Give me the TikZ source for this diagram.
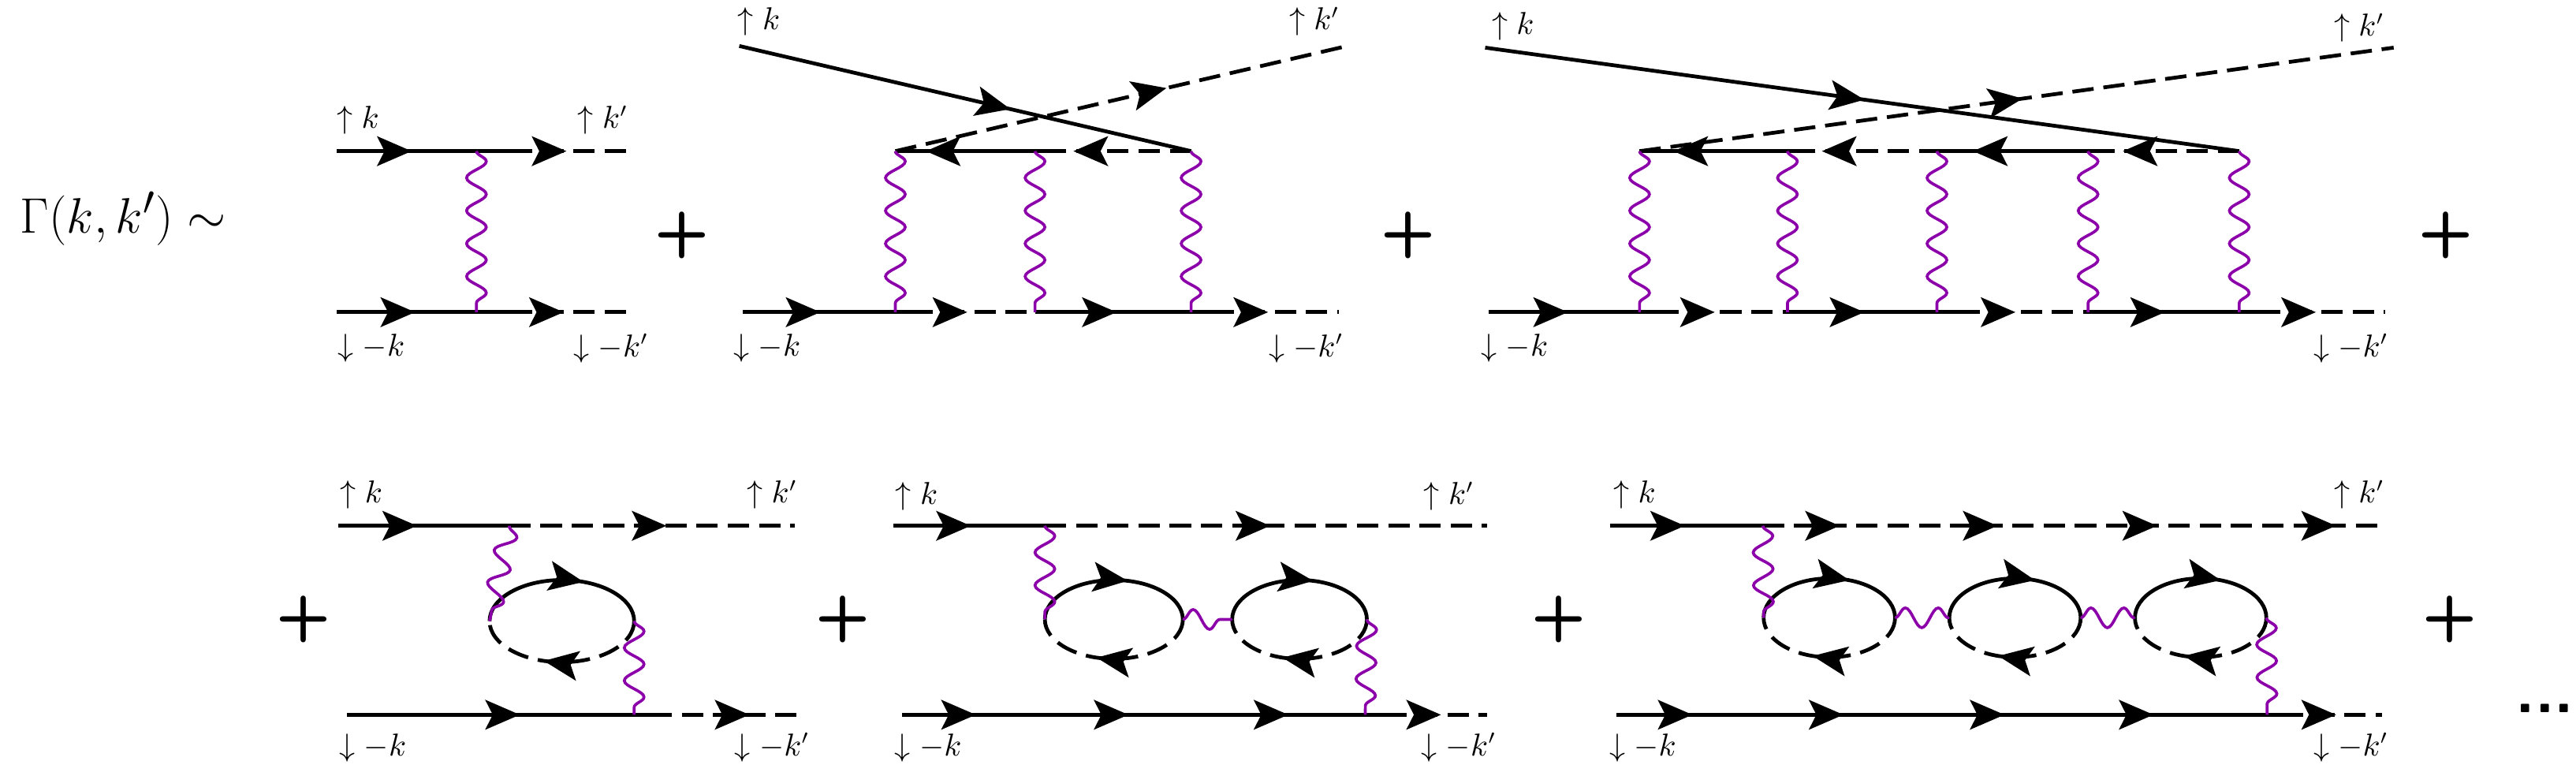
\documentclass[tikz,border=0pt]{standalone}
\usetikzlibrary{decorations.pathmorphing,decorations.markings,arrows.meta}
\definecolor{ph}{RGB}{140,0,170}
\tikzset{
  fer/.style={line width=1.3pt,black},
  dsh/.style={dash pattern=on 0.26cm off 0.12cm},
  arr/.style={postaction={decorate,decoration={markings,mark=at position #1 with {\arrow{Stealth[length=0.42cm,width=0.36cm,inset=0.09cm]}}}}},
  wig/.style={ph,line width=1pt,decorate,decoration={snake,segment length=0.4cm,amplitude=0.12cm}},
  lab/.style={font=\fontsize{10.5}{12}\selectfont,inner sep=0pt},
  plus/.style={font=\sffamily\bfseries\fontsize{22}{24}\selectfont,inner sep=0pt}
}
\newcommand\myloop[7]{%
  \coordinate (#1-l) at ({#2-#4},#3);
  \coordinate (#1-r) at ({#2+#4},#3);
  \draw[fer,arr=#6] (#1-l) arc[start angle=180,end angle=0,x radius=#4*0.02cm,y radius=#5*0.02cm];
  \draw[fer,dsh,arr=#7] (#1-r) arc[start angle=0,end angle=-180,x radius=#4*0.02cm,y radius=#5*0.02cm];
}
\begin{document}
\begin{tikzpicture}[x=0.02cm,y=-0.02cm]
\useasboundingbox (0,0) rectangle (1568,472);
\node[font=\fontsize{19}{22}\selectfont,inner sep=0pt] (G) at (75,133) {$\Gamma(k,k')\sim$};
% ---------- diagram 1
\coordinate (a1) at (205,92); \coordinate (a2) at (311,92); \coordinate (a3) at (386,92);
\coordinate (b1) at (205,190); \coordinate (b2) at (311,190); \coordinate (b3) at (384,190);
\coordinate (w1t) at (290,92); \coordinate (w1b) at (290,190);
\draw[fer,arr=0.43] (a1) -- (a2); \draw[fer,dsh,arr=0.45] (a2) -- (a3);
\draw[fer,arr=0.45] (b1) -- (b2); \draw[fer,dsh,arr=0.44] (b2) -- (b3);
\draw[wig] (w1t) -- (w1b);
\node[lab] (l1a) at (218,73) {$\uparrow k$};
\node[lab] (l1b) at (367,73) {$\uparrow k'$};
\node[lab] (l1c) at (226,212) {$\downarrow -k$};
\node[lab] (l1d) at (372,212) {$\downarrow -k'$};
\node[plus] (p1) at (415,143) {+};
% ---------- diagram 2
\coordinate (c0) at (450,28); \coordinate (c5) at (820,28);
\coordinate (cL) at (545,92); \coordinate (cM) at (648,92); \coordinate (cR) at (725,92);
\coordinate (d0) at (452,190); \coordinate (d1) at (555,190); \coordinate (d2) at (630,190);
\coordinate (d3) at (738,190); \coordinate (d4) at (815,190);
\coordinate (dw1) at (545,190); \coordinate (dw2) at (630,190); \coordinate (dw3) at (725,190);
\coordinate (cw2) at (630,92);
\draw[fer,arr=0.6] (c0) -- (cR);
\draw[fer,dsh,arr=0.6] (cL) -- (c5);
\draw[fer,arr=0.82] (cM) -- (cL);
\draw[fer,dsh,arr=0.93] (cR) -- (cM);
\draw[fer,arr=0.46] (d0) -- (d1); \draw[fer,dsh,arr=0.45] (d1) -- (d2);
\draw[fer,arr=0.46] (d2) -- (d3); \draw[fer,dsh,arr=0.44] (d3) -- (d4);
\draw[wig] (cL) -- (dw1); \draw[wig] (cw2) -- (dw2); \draw[wig] (cR) -- (dw3);
\node[lab] (l2a) at (462,13) {$\uparrow k$};
\node[lab] (l2b) at (800,13) {$\uparrow k'$};
\node[lab] (l2c) at (467,212) {$\downarrow -k$};
\node[lab] (l2d) at (795,212) {$\downarrow -k'$};
\node[plus] (p2) at (857,143) {+};
% ---------- diagram 3
\coordinate (e0) at (904,29); \coordinate (e9) at (1457,29);
\coordinate (t1) at (998,92); \coordinate (t2) at (1101,92); \coordinate (t3) at (1181,92);
\coordinate (t4) at (1286,92); \coordinate (t5) at (1363,92);
\coordinate (u0) at (906,190); \coordinate (u1) at (1009,190); \coordinate (u2) at (1088,190);
\coordinate (u3) at (1192,190); \coordinate (u4) at (1271,190); \coordinate (u5) at (1375,190);
\coordinate (u6) at (1452,190);
\coordinate (wa) at (998,92); \coordinate (wb) at (1088,92); \coordinate (wc) at (1179,92);
\coordinate (wd) at (1271,92); \coordinate (we) at (1363,92);
\coordinate (xa) at (998,190); \coordinate (xb) at (1088,190); \coordinate (xc) at (1179,190);
\coordinate (xd) at (1271,190); \coordinate (xe) at (1363,190);
\draw[fer,arr=0.503] (e0) -- (t5);
\draw[fer,dsh,arr=0.508] (t1) -- (e9);
\draw[fer,arr=0.8] (t2) -- (t1); \draw[fer,dsh,arr=0.9] (t3) -- (t2);
\draw[fer,arr=0.81] (t4) -- (t3); \draw[fer,dsh,arr=0.92] (t5) -- (t4);
\draw[fer,arr=0.47] (u0) -- (u1); \draw[fer,dsh,arr=0.44] (u1) -- (u2);
\draw[fer,arr=0.45] (u2) -- (u3); \draw[fer,dsh,arr=0.44] (u3) -- (u4);
\draw[fer,arr=0.45] (u4) -- (u5); \draw[fer,dsh,arr=0.45] (u5) -- (u6);
\draw[wig] (wa) -- (xa); \draw[wig] (wb) -- (xb); \draw[wig] (wc) -- (xc);
\draw[wig] (wd) -- (xd); \draw[wig] (we) -- (xe);
\node[lab] (l3a) at (921,16) {$\uparrow k$};
\node[lab] (l3b) at (1436,17) {$\uparrow k'$};
\node[lab] (l3c) at (922,212) {$\downarrow -k$};
\node[lab] (l3d) at (1431,212) {$\downarrow -k'$};
\node[plus] (p3) at (1489,143) {+};
% ---------- row 2 pluses
\node[plus] (p4) at (185,377) {+};
\node[plus] (p5) at (513,377) {+};
\node[plus] (p6) at (949,377) {+};
\node[plus] (p7) at (1491,377) {+};
\node[font=\sffamily\bfseries\fontsize{22}{24}\selectfont,inner sep=0pt] (dots) at (1549,431) {...};
% ---------- diagram 4
\coordinate (f0) at (206,320); \coordinate (f1) at (310,320); \coordinate (f2) at (484,320);
\coordinate (g0) at (211,435); \coordinate (g1) at (396,435); \coordinate (g2) at (490,435);
\coordinate (g3) at (386,435);
\draw[fer,arr=0.46] (f0) -- (f1); \draw[fer,dsh,arr=0.55] (f1) -- (f2);
\draw[fer,arr=0.57] (g0) -- (g1); \draw[fer,dsh,arr=0.64] (g1) -- (g2);
\myloop{L4}{342}{378}{44}{25}{0.62}{0.6}
\draw[wig] (f1) -- (L4-l); \draw[wig] (L4-r) -- (g3);
\node[lab] (l4a) at (220,301) {$\uparrow k$};
\node[lab] (l4b) at (470,301) {$\uparrow k'$};
\node[lab] (l4c) at (227,455) {$\downarrow -k$};
\node[lab] (l4d) at (470,455) {$\downarrow -k'$};
% ---------- diagram 5
\coordinate (h0) at (544,320); \coordinate (h1) at (636,320); \coordinate (h2) at (905,320);
\coordinate (i0) at (549,435); \coordinate (i1) at (843,435); \coordinate (i2) at (905,435);
\coordinate (i3) at (831,435);
\draw[fer,arr=0.51] (h0) -- (h1); \draw[fer,dsh,arr=0.51] (h1) -- (h2);
\draw[fer,arr=0.153,arr=0.469,arr=0.8] (i0) -- (i1); \draw[fer,dsh,arr=0.55] (i1) -- (i2);
\myloop{L5a}{678}{377}{42}{24}{0.58}{0.6}
\myloop{L5b}{791}{377}{41}{24}{0.58}{0.6}
\draw[wig] (h1) -- (L5a-l); \draw[wig] (L5a-r) -- (L5b-l); \draw[wig] (L5b-r) -- (i3);
\node[lab] (l5a) at (558,302) {$\uparrow k$};
\node[lab] (l5b) at (882,302) {$\uparrow k'$};
\node[lab] (l5c) at (565,455) {$\downarrow -k$};
\node[lab] (l5d) at (888,455) {$\downarrow -k'$};
% ---------- diagram 6
\coordinate (m0) at (980,320); \coordinate (m1) at (1073,320); \coordinate (m2) at (1451,320);
\coordinate (n0) at (984,435); \coordinate (n1) at (1389,435); \coordinate (n2) at (1450,435);
\coordinate (n3) at (1380,435);
\draw[fer,arr=0.49] (m0) -- (m1);
\draw[fer,dsh,arr=0.124,arr=0.378,arr=0.635,arr=0.923] (m1) -- (m2);
\draw[fer,arr=0.114,arr=0.341,arr=0.583,arr=0.807] (n0) -- (n1);
\draw[fer,dsh,arr=0.54] (n1) -- (n2);
\myloop{L6a}{1113.5}{376}{40}{24}{0.62}{0.6}
\myloop{L6b}{1226.5}{376}{40}{24}{0.62}{0.6}
\myloop{L6c}{1339.5}{376}{40}{24}{0.62}{0.6}
\draw[wig] (m1) -- (L6a-l); \draw[wig] (L6a-r) -- (L6b-l); \draw[wig] (L6b-r) -- (L6c-l);
\draw[wig] (L6c-r) -- (n3);
\node[lab] (l6a) at (995,301) {$\uparrow k$};
\node[lab] (l6b) at (1436,301) {$\uparrow k'$};
\node[lab] (l6c) at (1000,455) {$\downarrow -k$};
\node[lab] (l6d) at (1431,455) {$\downarrow -k'$};
\end{tikzpicture}
\end{document}
